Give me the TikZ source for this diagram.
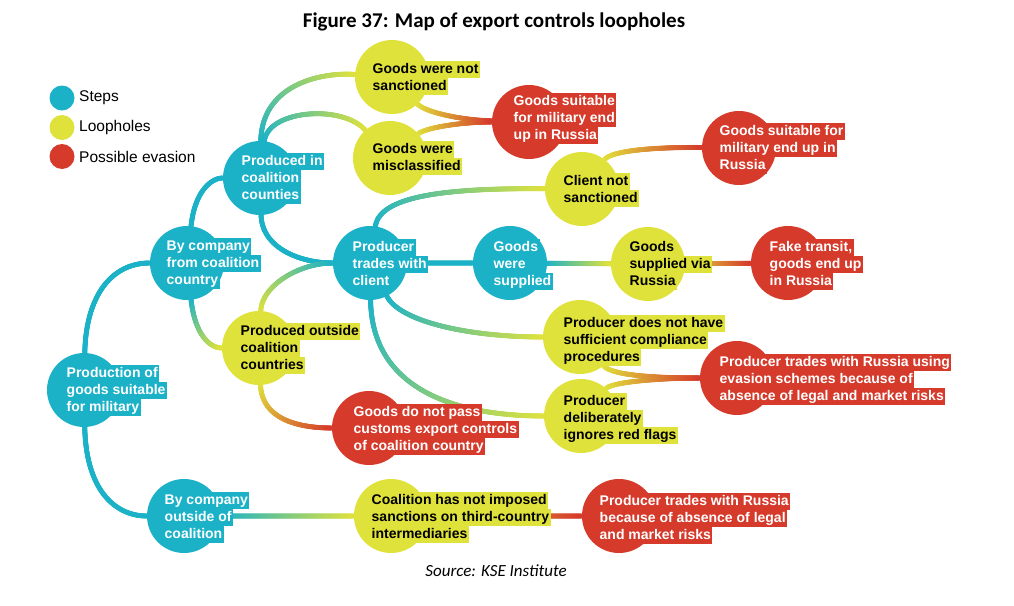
\documentclass[tikz,border=0pt]{standalone}
\usepackage{fontspec}
\setmainfont{Liberation Sans}
\newfontfamily\calibri{Carlito}
\usetikzlibrary{decorations.markings,backgrounds}
\definecolor{cT}{RGB}{27,178,200}
\definecolor{cY}{RGB}{224,226,60}
\definecolor{cR}{RGB}{213,58,43}
\setlength{\fboxsep}{0pt}
\newcommand\hlline[2]{\colorbox{#1}{\rule[-4.5pt]{0pt}{17pt}\kern1.5pt #2\kern1.5pt}}
\newcommand\lT[1]{\hlline{cT}{#1}}
\newcommand\lY[1]{\hlline{cY}{#1}}
\newcommand\lR[1]{\hlline{cR}{#1}}
\tikzset{
  stepc/.style={circle, fill=cT, minimum size=74pt, inner sep=0pt},
  loopc/.style={circle, fill=cY, minimum size=74pt, inner sep=0pt},
  evac/.style={circle, fill=cR, minimum size=74pt, inner sep=0pt},
  legc/.style={circle, minimum size=25pt, inner sep=0pt},
  txtw/.style={anchor=west, inner sep=0pt, align=left, text=white, font=\bfseries\fontsize{14}{17}\selectfont},
  txtb/.style={anchor=west, inner sep=0pt, align=left, text=black, font=\bfseries\fontsize{14}{17}\selectfont},
  legt/.style={anchor=west, inner sep=0pt, font=\fontsize{15.5}{18}\selectfont},
  grad/.style 2 args={postaction={decorate, decoration={markings,
    mark=between positions 0 and 1 step 0.6pt with {%
      \pgfmathtruncatemacro\gp{100*(\pgfkeysvalueof{/pgf/decoration/mark info/distance from start}/\pgfdecoratedpathlength)}%
      \fill[#2!\gp!#1] (0,0) circle (2.5pt);}}}}
}
\begin{document}
\begin{tikzpicture}[x=1pt,y=-1pt]
\useasboundingbox (0,0) rectangle (1014,605);
% title and source
\node[font=\calibri\bfseries\fontsize{21}{24}\selectfont] (title) at (494,22) {Figure 37: Map of export controls loopholes};
\node[font=\calibri\itshape\fontsize{17}{20}\selectfont] (source) at (496,571) {Source: KSE Institute};
% legend
\node[legc, fill=cT] (lg1) at (62,98) {};
\node[legc, fill=cY] (lg2) at (62,127.5) {};
\node[legc, fill=cR] (lg3) at (62,156.5) {};
\node[legt] (lg1t) at (79,98) {Steps};
\node[legt] (lg2t) at (79,127.5) {Loopholes};
\node[legt] (lg3t) at (79,156.5) {Possible evasion};
% circles
\node[stepc] (prod) at (84,390) {};
\node[stepc] (bycoal) at (187,263) {};
\node[stepc] (prodin) at (260,178) {};
\node[stepc] (byout) at (184,516) {};
\node[stepc] (ptc) at (370,263) {};
\node[stepc] (supp) at (510,263) {};
\node[loopc] (notsanc) at (392,77) {};
\node[loopc] (miscl) at (390,158) {};
\node[evac] (red1) at (529,122) {};
\node[loopc] (clientns) at (582,189) {};
\node[evac] (red2) at (739,148) {};
\node[loopc] (via) at (648,264) {};
\node[evac] (fake) at (788,263) {};
\node[loopc] (prodout) at (259,348) {};
\node[loopc] (insuff) at (580,337) {};
\node[evac] (red3) at (737,378) {};
\node[loopc] (delib) at (581,416) {};
\node[evac] (customs) at (369,428) {};
\node[loopc] (coalimp) at (391,516) {};
\node[evac] (red4) at (619,516) {};
% texts
\node[txtw] (prod-t) at (65,390) {\lT{Production of}\\\lT{goods suitable}\\\lT{for military}};
\node[txtw] (bycoal-t) at (165,263) {\lT{By company}\\\lT{from coalition}\\\lT{country}};
\node[txtw] (prodin-t) at (240,178) {\lT{Produced in}\\\lT{coalition}\\\lT{counties}};
\node[txtw] (byout-t) at (163,517) {\lT{By company}\\\lT{outside of}\\\lT{coalition}};
\node[txtw] (ptc-t) at (351,264) {\lT{Producer}\\\lT{trades with}\\\lT{client}};
\node[txtw] (supp-t) at (492,264) {\lT{Goods}\\\lT{were}\\\lT{supplied}};
\node[txtb] (notsanc-t) at (371,77.5) {\lY{Goods were not}\\\lY{sanctioned}};
\node[txtb] (miscl-t) at (371,158) {\lY{Goods were}\\\lY{misclassified}};
\node[txtw] (red1-t) at (512,118) {\lR{Goods suitable}\\\lR{for military end}\\\lR{up in Russia}};
\node[txtb] (clientns-t) at (562,189.5) {\lY{Client not}\\\lY{sanctioned}};
\node[txtw] (red2-t) at (718,148) {\lR{Goods suitable for}\\\lR{military end up in}\\\lR{Russia}};
\node[txtb] (via-t) at (628,264) {\lY{Goods}\\\lY{supplied via}\\\lY{Russia}};
\node[txtw] (fake-t) at (768,264) {\lR{Fake transit,}\\\lR{goods end up}\\\lR{in Russia}};
\node[txtb] (prodout-t) at (239,348) {\lY{Produced outside}\\\lY{coalition}\\\lY{countries}};
\node[txtb] (insuff-t) at (562,340) {\lY{Producer does not have}\\\lY{sufficient compliance}\\\lY{procedures}};
\node[txtw] (red3-t) at (718,379) {\lR{Producer trades with Russia using}\\\lR{evasion schemes because of}\\\lR{absence of legal and market risks}};
\node[txtb] (delib-t) at (562,418) {\lY{Producer}\\\lY{deliberately}\\\lY{ignores red flags}};
\node[txtw] (customs-t) at (352,429) {\lR{Goods do not pass}\\\lR{customs export controls}\\\lR{of coalition country}};
\node[txtb] (coalimp-t) at (370,517) {\lY{Coalition has not imposed}\\\lY{sanctions on third-country}\\\lY{intermediaries}};
\node[txtw] (red4-t) at (598,518) {\lR{Producer trades with Russia}\\\lR{because of absence of legal}\\\lR{and market risks}};
% connectors
\begin{scope}[on background layer]
\path[grad={cT}{cT}] (prod) .. controls (86,295) and (112,263) .. (bycoal);
\path[grad={cT}{cT}] (prod) .. controls (86,490) and (115,516) .. (byout);
\path[grad={cT}{cT}] (bycoal) .. controls (195,190) and (212,178) .. (prodin);
\path[grad={cT}{cY}] (bycoal) .. controls (195,335) and (210,348) .. (prodout);
\path[grad={cT}{cY}] (prodin) .. controls (262,85) and (320,72) .. (notsanc);
\path[grad={cT}{cY}] (prodin) .. controls (268,110) and (342,104) .. (miscl);
\path[grad={cT}{cT}] (prodin) .. controls (262,248) and (300,263) .. (ptc);
\path[grad={cY}{cR}] (notsanc) .. controls (425,112) and (460,120) .. (red1);
\path[grad={cY}{cR}] (miscl) .. controls (425,128) and (460,122) .. (red1);
\path[grad={cT}{cY}] (ptc) .. controls (380,195) and (450,188) .. (clientns);
\path[grad={cY}{cR}] (clientns) .. controls (612,150) and (660,147) .. (red2);
\path[grad={cT}{cT}] (ptc) -- (supp);
\path[grad={cT}{cY}] (supp) -- (via);
\path[grad={cY}{cR}] (via) -- (fake);
\path[grad={cY}{cT}] (prodout) .. controls (262,285) and (300,263) .. (ptc);
\path[grad={cT}{cY}] (ptc) .. controls (400,322) and (470,337) .. (insuff);
\path[grad={cT}{cY}] (ptc) .. controls (372,392) and (460,416) .. (delib);
\path[grad={cY}{cR}] (insuff) .. controls (612,376) and (660,378) .. (red3);
\path[grad={cY}{cR}] (delib) .. controls (612,382) and (660,378) .. (red3);
\path[grad={cY}{cR}] (prodout) .. controls (262,420) and (300,428) .. (customs);
\path[grad={cT}{cY}] (byout) -- (coalimp);
\path[grad={cY}{cR}] (coalimp) -- (red4);
\end{scope}
\end{tikzpicture}
\end{document}
